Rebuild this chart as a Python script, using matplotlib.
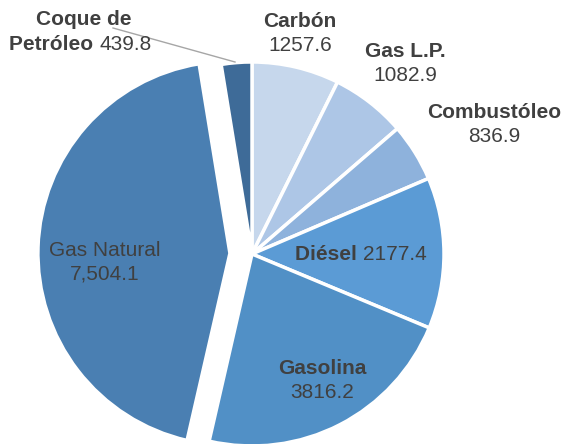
import matplotlib.pyplot as plt

plt.rcParams['font.family'] = ['Liberation Sans', 'DejaVu Sans']

fuels = ["Carbón", "Gas L.P.", "Combustóleo", "Diésel", "Gasolina", "Gas Natural", "Coque de\nPetróleo"]
values = [1257.6, 1082.9, 836.9, 2177.4, 3816.2, 7504.1, 439.8]
value_labels = ["1257.6", "1082.9", "836.9", "2177.4", "3816.2", "7,504.1", "439.8"]
colors = ["#c6d7ec", "#adc6e6", "#8eb2dc", "#5b9bd5", "#5190c6", "#4a7fb2", "#3e6b98"]
explode = [0, 0, 0, 0, 0, 0.115, 0]

W, H = 564, 444
R = 192  # pie radius in px
CX, CY = 252, 254  # pie centre in px

fig = plt.figure(figsize=(W / 100, H / 100), dpi=100)
ax = fig.add_axes([0, 0, 1, 1])

ax.pie(values, colors=colors, explode=explode, startangle=90, counterclock=False,
       radius=1, center=(0, 0), wedgeprops=dict(edgecolor='white', linewidth=2.5))
# pie resets the limits, so set them afterwards
ax.set_xlim(-CX / R, (W - CX) / R)
ax.set_ylim(-(H - CY) / R, CY / R)
ax.axis('off')


def pos(x, y):
    # pixel position (from top-left) -> data coords
    return (x - CX) / R, (CY - y) / R


txt = dict(color='#404040', fontsize=15)

# two-line labels: bold name above, value below
for name, val, (x, y), bold in [
    (fuels[0], value_labels[0], (300, 22), True),
    (fuels[1], value_labels[1], (405, 52), True),
    (fuels[2], value_labels[2], (494, 113), True),
    (fuels[4], value_labels[4], (322, 368), True),
    (fuels[5], value_labels[5], (105, 250), False),
]:
    ax.text(*pos(x, y), name, ha='center', va='center',
            fontweight='bold' if bold else 'normal', **txt)
    ax.text(*pos(x, y + 24), val, ha='center', va='center', **txt)

# Diésel: one line, mixed weight
ax.text(*pos(363, 255), fuels[3] + " ", ha='right', va='center', fontweight='bold', **txt)
ax.text(*pos(363, 255), value_labels[3], ha='left', va='center', **txt)

# Coque de Petróleo with leader line
ax.text(*pos(84, 20), "Coque de", ha='center', va='center', fontweight='bold', **txt)
ax.text(*pos(99, 45), "Petróleo ", ha='right', va='center', fontweight='bold', **txt)
ax.text(*pos(99, 45), value_labels[6], ha='left', va='center', **txt)
x0, y0 = pos(113, 28)
x1, y1 = pos(235, 62)
ax.plot([x0, x1], [y0, y1], color='#a6a6a6', linewidth=1)

fig.savefig("out.png", dpi=100)
